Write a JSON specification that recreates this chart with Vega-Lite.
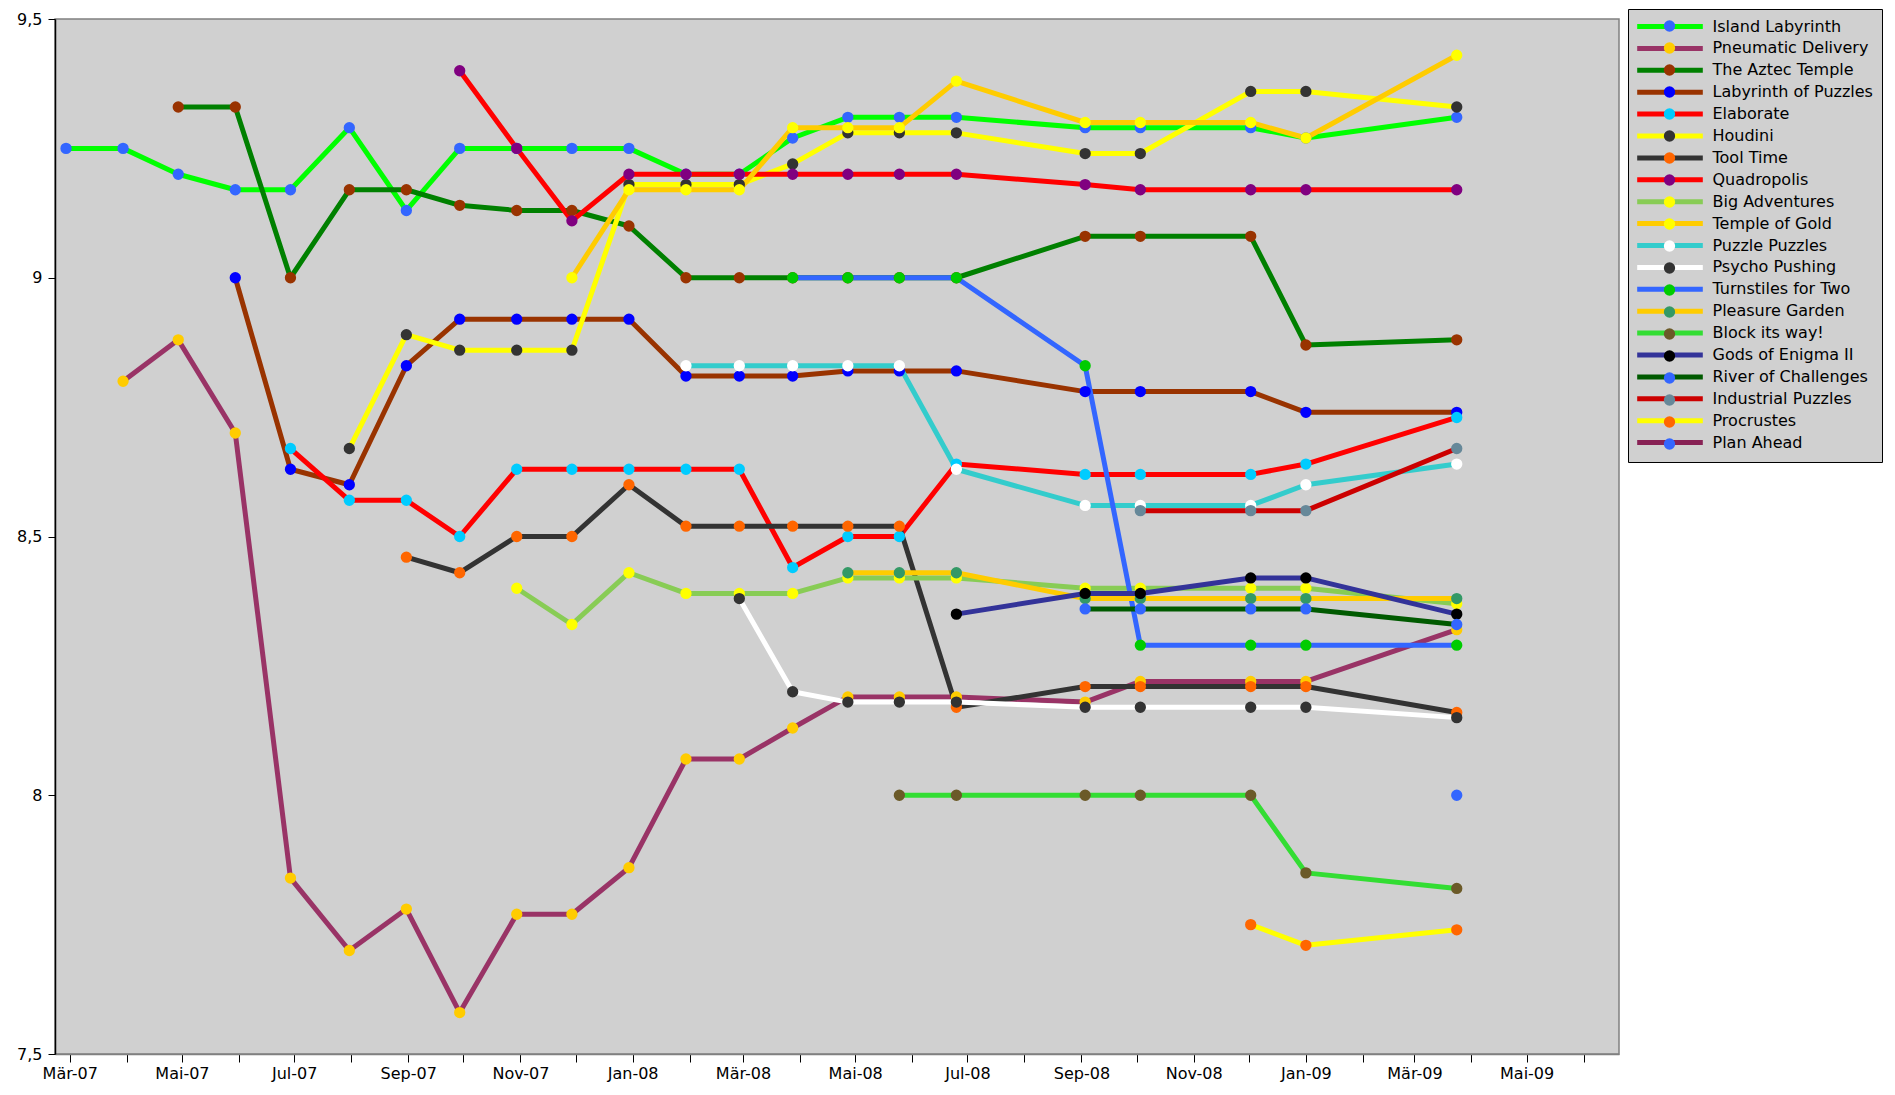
{
  "$schema": "https://vega.github.io/schema/vega-lite/v6.json",
  "width": 1564,
  "height": 1035,
  "autosize": {"type": "none"},
  "padding": {"left": 55, "top": 19, "right": 276, "bottom": 41},
  "background": "white",
  "config": {
    "view": {"fill": "#d0d0d0", "stroke": "#808080", "strokeWidth": 1.5},
    "font": "DejaVu Sans"
  },
  "datasets": {
    "ratings": [
      {"series":"Island Labyrinth","date":"2007-02-27","rating":9.25},
      {"series":"Island Labyrinth","date":"2007-03-30","rating":9.25},
      {"series":"Island Labyrinth","date":"2007-04-29","rating":9.20},
      {"series":"Island Labyrinth","date":"2007-05-30","rating":9.17},
      {"series":"Island Labyrinth","date":"2007-06-29","rating":9.17},
      {"series":"Island Labyrinth","date":"2007-07-31","rating":9.29},
      {"series":"Island Labyrinth","date":"2007-08-31","rating":9.13},
      {"series":"Island Labyrinth","date":"2007-09-29","rating":9.25},
      {"series":"Island Labyrinth","date":"2007-10-30","rating":9.25},
      {"series":"Island Labyrinth","date":"2007-11-29","rating":9.25},
      {"series":"Island Labyrinth","date":"2007-12-30","rating":9.25},
      {"series":"Island Labyrinth","date":"2008-01-30","rating":9.20},
      {"series":"Island Labyrinth","date":"2008-02-28","rating":9.20},
      {"series":"Island Labyrinth","date":"2008-03-28","rating":9.27},
      {"series":"Island Labyrinth","date":"2008-04-27","rating":9.31},
      {"series":"Island Labyrinth","date":"2008-05-25","rating":9.31},
      {"series":"Island Labyrinth","date":"2008-06-25","rating":9.31},
      {"series":"Island Labyrinth","date":"2008-09-03","rating":9.29},
      {"series":"Island Labyrinth","date":"2008-10-03","rating":9.29},
      {"series":"Island Labyrinth","date":"2008-12-02","rating":9.29},
      {"series":"Island Labyrinth","date":"2009-01-01","rating":9.27},
      {"series":"Island Labyrinth","date":"2009-03-24","rating":9.31},

      {"series":"Pneumatic Delivery","date":"2007-03-30","rating":8.80},
      {"series":"Pneumatic Delivery","date":"2007-04-29","rating":8.88},
      {"series":"Pneumatic Delivery","date":"2007-05-30","rating":8.70},
      {"series":"Pneumatic Delivery","date":"2007-06-29","rating":7.84},
      {"series":"Pneumatic Delivery","date":"2007-07-31","rating":7.70},
      {"series":"Pneumatic Delivery","date":"2007-08-31","rating":7.78},
      {"series":"Pneumatic Delivery","date":"2007-09-29","rating":7.58},
      {"series":"Pneumatic Delivery","date":"2007-10-30","rating":7.77},
      {"series":"Pneumatic Delivery","date":"2007-11-29","rating":7.77},
      {"series":"Pneumatic Delivery","date":"2007-12-30","rating":7.86},
      {"series":"Pneumatic Delivery","date":"2008-01-30","rating":8.07},
      {"series":"Pneumatic Delivery","date":"2008-02-28","rating":8.07},
      {"series":"Pneumatic Delivery","date":"2008-03-28","rating":8.13},
      {"series":"Pneumatic Delivery","date":"2008-04-27","rating":8.19},
      {"series":"Pneumatic Delivery","date":"2008-05-25","rating":8.19},
      {"series":"Pneumatic Delivery","date":"2008-06-25","rating":8.19},
      {"series":"Pneumatic Delivery","date":"2008-09-03","rating":8.18},
      {"series":"Pneumatic Delivery","date":"2008-10-03","rating":8.22},
      {"series":"Pneumatic Delivery","date":"2008-12-02","rating":8.22},
      {"series":"Pneumatic Delivery","date":"2009-01-01","rating":8.22},
      {"series":"Pneumatic Delivery","date":"2009-03-24","rating":8.32},

      {"series":"The Aztec Temple","date":"2007-04-29","rating":9.33},
      {"series":"The Aztec Temple","date":"2007-05-30","rating":9.33},
      {"series":"The Aztec Temple","date":"2007-06-29","rating":9.00},
      {"series":"The Aztec Temple","date":"2007-07-31","rating":9.17},
      {"series":"The Aztec Temple","date":"2007-08-31","rating":9.17},
      {"series":"The Aztec Temple","date":"2007-09-29","rating":9.14},
      {"series":"The Aztec Temple","date":"2007-10-30","rating":9.13},
      {"series":"The Aztec Temple","date":"2007-11-29","rating":9.13},
      {"series":"The Aztec Temple","date":"2007-12-30","rating":9.10},
      {"series":"The Aztec Temple","date":"2008-01-30","rating":9.00},
      {"series":"The Aztec Temple","date":"2008-02-28","rating":9.00},
      {"series":"The Aztec Temple","date":"2008-03-28","rating":9.00},
      {"series":"The Aztec Temple","date":"2008-04-27","rating":9.00},
      {"series":"The Aztec Temple","date":"2008-05-25","rating":9.00},
      {"series":"The Aztec Temple","date":"2008-06-25","rating":9.00},
      {"series":"The Aztec Temple","date":"2008-09-03","rating":9.08},
      {"series":"The Aztec Temple","date":"2008-10-03","rating":9.08},
      {"series":"The Aztec Temple","date":"2008-12-02","rating":9.08},
      {"series":"The Aztec Temple","date":"2009-01-01","rating":8.87},
      {"series":"The Aztec Temple","date":"2009-03-24","rating":8.88},

      {"series":"Labyrinth of Puzzles","date":"2007-05-30","rating":9.00},
      {"series":"Labyrinth of Puzzles","date":"2007-06-29","rating":8.63},
      {"series":"Labyrinth of Puzzles","date":"2007-07-31","rating":8.60},
      {"series":"Labyrinth of Puzzles","date":"2007-08-31","rating":8.83},
      {"series":"Labyrinth of Puzzles","date":"2007-09-29","rating":8.92},
      {"series":"Labyrinth of Puzzles","date":"2007-10-30","rating":8.92},
      {"series":"Labyrinth of Puzzles","date":"2007-11-29","rating":8.92},
      {"series":"Labyrinth of Puzzles","date":"2007-12-30","rating":8.92},
      {"series":"Labyrinth of Puzzles","date":"2008-01-30","rating":8.81},
      {"series":"Labyrinth of Puzzles","date":"2008-02-28","rating":8.81},
      {"series":"Labyrinth of Puzzles","date":"2008-03-28","rating":8.81},
      {"series":"Labyrinth of Puzzles","date":"2008-04-27","rating":8.82},
      {"series":"Labyrinth of Puzzles","date":"2008-05-25","rating":8.82},
      {"series":"Labyrinth of Puzzles","date":"2008-06-25","rating":8.82},
      {"series":"Labyrinth of Puzzles","date":"2008-09-03","rating":8.78},
      {"series":"Labyrinth of Puzzles","date":"2008-10-03","rating":8.78},
      {"series":"Labyrinth of Puzzles","date":"2008-12-02","rating":8.78},
      {"series":"Labyrinth of Puzzles","date":"2009-01-01","rating":8.74},
      {"series":"Labyrinth of Puzzles","date":"2009-03-24","rating":8.74},

      {"series":"Elaborate","date":"2007-06-29","rating":8.67},
      {"series":"Elaborate","date":"2007-07-31","rating":8.57},
      {"series":"Elaborate","date":"2007-08-31","rating":8.57},
      {"series":"Elaborate","date":"2007-09-29","rating":8.50},
      {"series":"Elaborate","date":"2007-10-30","rating":8.63},
      {"series":"Elaborate","date":"2007-11-29","rating":8.63},
      {"series":"Elaborate","date":"2007-12-30","rating":8.63},
      {"series":"Elaborate","date":"2008-01-30","rating":8.63},
      {"series":"Elaborate","date":"2008-02-28","rating":8.63},
      {"series":"Elaborate","date":"2008-03-28","rating":8.44},
      {"series":"Elaborate","date":"2008-04-27","rating":8.50},
      {"series":"Elaborate","date":"2008-05-25","rating":8.50},
      {"series":"Elaborate","date":"2008-06-25","rating":8.64},
      {"series":"Elaborate","date":"2008-09-03","rating":8.62},
      {"series":"Elaborate","date":"2008-10-03","rating":8.62},
      {"series":"Elaborate","date":"2008-12-02","rating":8.62},
      {"series":"Elaborate","date":"2009-01-01","rating":8.64},
      {"series":"Elaborate","date":"2009-03-24","rating":8.73},

      {"series":"Houdini","date":"2007-07-31","rating":8.67},
      {"series":"Houdini","date":"2007-08-31","rating":8.89},
      {"series":"Houdini","date":"2007-09-29","rating":8.86},
      {"series":"Houdini","date":"2007-10-30","rating":8.86},
      {"series":"Houdini","date":"2007-11-29","rating":8.86},
      {"series":"Houdini","date":"2007-12-30","rating":9.18},
      {"series":"Houdini","date":"2008-01-30","rating":9.18},
      {"series":"Houdini","date":"2008-02-28","rating":9.18},
      {"series":"Houdini","date":"2008-03-28","rating":9.22},
      {"series":"Houdini","date":"2008-04-27","rating":9.28},
      {"series":"Houdini","date":"2008-05-25","rating":9.28},
      {"series":"Houdini","date":"2008-06-25","rating":9.28},
      {"series":"Houdini","date":"2008-09-03","rating":9.24},
      {"series":"Houdini","date":"2008-10-03","rating":9.24},
      {"series":"Houdini","date":"2008-12-02","rating":9.36},
      {"series":"Houdini","date":"2009-01-01","rating":9.36},
      {"series":"Houdini","date":"2009-03-24","rating":9.33},

      {"series":"Tool Time","date":"2007-08-31","rating":8.46},
      {"series":"Tool Time","date":"2007-09-29","rating":8.43},
      {"series":"Tool Time","date":"2007-10-30","rating":8.50},
      {"series":"Tool Time","date":"2007-11-29","rating":8.50},
      {"series":"Tool Time","date":"2007-12-30","rating":8.60},
      {"series":"Tool Time","date":"2008-01-30","rating":8.52},
      {"series":"Tool Time","date":"2008-02-28","rating":8.52},
      {"series":"Tool Time","date":"2008-03-28","rating":8.52},
      {"series":"Tool Time","date":"2008-04-27","rating":8.52},
      {"series":"Tool Time","date":"2008-05-25","rating":8.52},
      {"series":"Tool Time","date":"2008-06-25","rating":8.17},
      {"series":"Tool Time","date":"2008-09-03","rating":8.21},
      {"series":"Tool Time","date":"2008-10-03","rating":8.21},
      {"series":"Tool Time","date":"2008-12-02","rating":8.21},
      {"series":"Tool Time","date":"2009-01-01","rating":8.21},
      {"series":"Tool Time","date":"2009-03-24","rating":8.16},

      {"series":"Quadropolis","date":"2007-09-29","rating":9.40},
      {"series":"Quadropolis","date":"2007-10-30","rating":9.25},
      {"series":"Quadropolis","date":"2007-11-29","rating":9.11},
      {"series":"Quadropolis","date":"2007-12-30","rating":9.20},
      {"series":"Quadropolis","date":"2008-01-30","rating":9.20},
      {"series":"Quadropolis","date":"2008-02-28","rating":9.20},
      {"series":"Quadropolis","date":"2008-03-28","rating":9.20},
      {"series":"Quadropolis","date":"2008-04-27","rating":9.20},
      {"series":"Quadropolis","date":"2008-05-25","rating":9.20},
      {"series":"Quadropolis","date":"2008-06-25","rating":9.20},
      {"series":"Quadropolis","date":"2008-09-03","rating":9.18},
      {"series":"Quadropolis","date":"2008-10-03","rating":9.17},
      {"series":"Quadropolis","date":"2008-12-02","rating":9.17},
      {"series":"Quadropolis","date":"2009-01-01","rating":9.17},
      {"series":"Quadropolis","date":"2009-03-24","rating":9.17},

      {"series":"Big Adventures","date":"2007-10-30","rating":8.40},
      {"series":"Big Adventures","date":"2007-11-29","rating":8.33},
      {"series":"Big Adventures","date":"2007-12-30","rating":8.43},
      {"series":"Big Adventures","date":"2008-01-30","rating":8.39},
      {"series":"Big Adventures","date":"2008-02-28","rating":8.39},
      {"series":"Big Adventures","date":"2008-03-28","rating":8.39},
      {"series":"Big Adventures","date":"2008-04-27","rating":8.42},
      {"series":"Big Adventures","date":"2008-05-25","rating":8.42},
      {"series":"Big Adventures","date":"2008-06-25","rating":8.42},
      {"series":"Big Adventures","date":"2008-09-03","rating":8.40},
      {"series":"Big Adventures","date":"2008-10-03","rating":8.40},
      {"series":"Big Adventures","date":"2008-12-02","rating":8.40},
      {"series":"Big Adventures","date":"2009-01-01","rating":8.40},
      {"series":"Big Adventures","date":"2009-03-24","rating":8.37},

      {"series":"Temple of Gold","date":"2007-11-29","rating":9.00},
      {"series":"Temple of Gold","date":"2007-12-30","rating":9.17},
      {"series":"Temple of Gold","date":"2008-01-30","rating":9.17},
      {"series":"Temple of Gold","date":"2008-02-28","rating":9.17},
      {"series":"Temple of Gold","date":"2008-03-28","rating":9.29},
      {"series":"Temple of Gold","date":"2008-04-27","rating":9.29},
      {"series":"Temple of Gold","date":"2008-05-25","rating":9.29},
      {"series":"Temple of Gold","date":"2008-06-25","rating":9.38},
      {"series":"Temple of Gold","date":"2008-09-03","rating":9.30},
      {"series":"Temple of Gold","date":"2008-10-03","rating":9.30},
      {"series":"Temple of Gold","date":"2008-12-02","rating":9.30},
      {"series":"Temple of Gold","date":"2009-01-01","rating":9.27},
      {"series":"Temple of Gold","date":"2009-03-24","rating":9.43},

      {"series":"Puzzle Puzzles","date":"2008-01-30","rating":8.83},
      {"series":"Puzzle Puzzles","date":"2008-02-28","rating":8.83},
      {"series":"Puzzle Puzzles","date":"2008-03-28","rating":8.83},
      {"series":"Puzzle Puzzles","date":"2008-04-27","rating":8.83},
      {"series":"Puzzle Puzzles","date":"2008-05-25","rating":8.83},
      {"series":"Puzzle Puzzles","date":"2008-06-25","rating":8.63},
      {"series":"Puzzle Puzzles","date":"2008-09-03","rating":8.56},
      {"series":"Puzzle Puzzles","date":"2008-10-03","rating":8.56},
      {"series":"Puzzle Puzzles","date":"2008-12-02","rating":8.56},
      {"series":"Puzzle Puzzles","date":"2009-01-01","rating":8.60},
      {"series":"Puzzle Puzzles","date":"2009-03-24","rating":8.64},

      {"series":"Psycho Pushing","date":"2008-02-28","rating":8.38},
      {"series":"Psycho Pushing","date":"2008-03-28","rating":8.20},
      {"series":"Psycho Pushing","date":"2008-04-27","rating":8.18},
      {"series":"Psycho Pushing","date":"2008-05-25","rating":8.18},
      {"series":"Psycho Pushing","date":"2008-06-25","rating":8.18},
      {"series":"Psycho Pushing","date":"2008-09-03","rating":8.17},
      {"series":"Psycho Pushing","date":"2008-10-03","rating":8.17},
      {"series":"Psycho Pushing","date":"2008-12-02","rating":8.17},
      {"series":"Psycho Pushing","date":"2009-01-01","rating":8.17},
      {"series":"Psycho Pushing","date":"2009-03-24","rating":8.15},

      {"series":"Turnstiles for Two","date":"2008-03-28","rating":9.00},
      {"series":"Turnstiles for Two","date":"2008-04-27","rating":9.00},
      {"series":"Turnstiles for Two","date":"2008-05-25","rating":9.00},
      {"series":"Turnstiles for Two","date":"2008-06-25","rating":9.00},
      {"series":"Turnstiles for Two","date":"2008-09-03","rating":8.83},
      {"series":"Turnstiles for Two","date":"2008-10-03","rating":8.29},
      {"series":"Turnstiles for Two","date":"2008-12-02","rating":8.29},
      {"series":"Turnstiles for Two","date":"2009-01-01","rating":8.29},
      {"series":"Turnstiles for Two","date":"2009-03-24","rating":8.29},

      {"series":"Pleasure Garden","date":"2008-04-27","rating":8.43},
      {"series":"Pleasure Garden","date":"2008-05-25","rating":8.43},
      {"series":"Pleasure Garden","date":"2008-06-25","rating":8.43},
      {"series":"Pleasure Garden","date":"2008-09-03","rating":8.38},
      {"series":"Pleasure Garden","date":"2008-10-03","rating":8.38},
      {"series":"Pleasure Garden","date":"2008-12-02","rating":8.38},
      {"series":"Pleasure Garden","date":"2009-01-01","rating":8.38},
      {"series":"Pleasure Garden","date":"2009-03-24","rating":8.38},

      {"series":"Block its way!","date":"2008-05-25","rating":8.00},
      {"series":"Block its way!","date":"2008-06-25","rating":8.00},
      {"series":"Block its way!","date":"2008-09-03","rating":8.00},
      {"series":"Block its way!","date":"2008-10-03","rating":8.00},
      {"series":"Block its way!","date":"2008-12-02","rating":8.00},
      {"series":"Block its way!","date":"2009-01-01","rating":7.85},
      {"series":"Block its way!","date":"2009-03-24","rating":7.82},

      {"series":"Gods of Enigma II","date":"2008-06-25","rating":8.35},
      {"series":"Gods of Enigma II","date":"2008-09-03","rating":8.39},
      {"series":"Gods of Enigma II","date":"2008-10-03","rating":8.39},
      {"series":"Gods of Enigma II","date":"2008-12-02","rating":8.42},
      {"series":"Gods of Enigma II","date":"2009-01-01","rating":8.42},
      {"series":"Gods of Enigma II","date":"2009-03-24","rating":8.35},

      {"series":"River of Challenges","date":"2008-09-03","rating":8.36},
      {"series":"River of Challenges","date":"2008-10-03","rating":8.36},
      {"series":"River of Challenges","date":"2008-12-02","rating":8.36},
      {"series":"River of Challenges","date":"2009-01-01","rating":8.36},
      {"series":"River of Challenges","date":"2009-03-24","rating":8.33},

      {"series":"Industrial Puzzles","date":"2008-10-03","rating":8.55},
      {"series":"Industrial Puzzles","date":"2008-12-02","rating":8.55},
      {"series":"Industrial Puzzles","date":"2009-01-01","rating":8.55},
      {"series":"Industrial Puzzles","date":"2009-03-24","rating":8.67},

      {"series":"Procrustes","date":"2008-12-02","rating":7.75},
      {"series":"Procrustes","date":"2009-01-01","rating":7.71},
      {"series":"Procrustes","date":"2009-03-24","rating":7.74},

      {"series":"Plan Ahead","date":"2009-03-24","rating":8.00}
    ]
  },
  "data": {"name": "ratings"},
  "encoding": {
    "x": {
      "field": "date",
      "type": "temporal",
      "scale": {
        "type": "utc",
        "domain": [
          {"year": 2007, "month": 2, "date": 21, "utc": true},
          {"year": 2009, "month": 6, "date": 20, "hours": 5, "utc": true}
        ]
      },
      "axis": {
        "title": null,
        "grid": false,
        "tickCount": {"interval": "month", "step": 1},
        "labelExpr": "utcmonth(datum.value) % 2 == 0 ? (['Jan','Feb','Mär','Apr','Mai','Jun','Jul','Aug','Sep','Okt','Nov','Dez'][utcmonth(datum.value)] + '-' + utcFormat(datum.value, '%y')) : ''",
        "labelOverlap": false,
        "labelFlush": false,
        "labelBound": false,
        "labelFont": "DejaVu Sans",
        "labelFontSize": 16,
        "labelColor": "black",
        "labelPadding": 3,
        "tickSize": 8,
        "tickColor": "black",
        "domainColor": "#808080",
        "domainWidth": 1.5
      }
    },
    "y": {
      "field": "rating",
      "type": "quantitative",
      "scale": {"domain": [7.5, 9.5], "nice": false, "zero": false},
      "axis": {
        "title": null,
        "grid": false,
        "values": [7.5, 8, 8.5, 9, 9.5],
        "labelExpr": "replace(toString(datum.value), '.', ',')",
        "labelFont": "DejaVu Sans",
        "labelFontSize": 16,
        "labelColor": "black",
        "labelPadding": 6,
        "tickSize": 7,
        "tickColor": "black",
        "domainColor": "black",
        "domainWidth": 1.5
      }
    }
  },
  "layer": [
    {
      "mark": {"type": "line", "strokeWidth": 5, "strokeCap": "round", "strokeJoin": "round"},
      "encoding": {
        "color": {
          "field": "series",
          "type": "nominal",
          "sort": ["Island Labyrinth","Pneumatic Delivery","The Aztec Temple","Labyrinth of Puzzles","Elaborate","Houdini","Tool Time","Quadropolis","Big Adventures","Temple of Gold","Puzzle Puzzles","Psycho Pushing","Turnstiles for Two","Pleasure Garden","Block its way!","Gods of Enigma II","River of Challenges","Industrial Puzzles","Procrustes","Plan Ahead"],
          "scale": {"range": ["#00ff00","#993366","#008000","#993300","#ff0000","#ffff00","#333333","#ff0000","#88cc55","#ffcc00","#33cccc","#ffffff","#3366ff","#ffcc00","#33dd33","#333399","#005a00","#cc0000","#ffff00","#882255"]},
          "legend": {
            "orient": "none",
            "legendX": 1573,
            "legendY": -10,
            "title": null,
            "padding": 9,
            "strokeColor": "black",
            "fillColor": "#d0d0d0",
            "symbolType": "M-5.8,0H5.8",
            "symbolSize": 128,
            "symbolStrokeWidth": 5,
            "symbolOffset": 24.5,
            "labelOffset": 34,
            "labelFont": "DejaVu Sans",
            "labelFontSize": 16,
            "labelColor": "black",
            "labelLimit": 400,
            "rowPadding": 0.9,
            "symbolLimit": 0
          }
        }
      }
    },
    {
      "mark": {"type": "point", "filled": true, "size": 128, "opacity": 1, "strokeWidth": 0},
      "encoding": {
        "fill": {
          "field": "series",
          "type": "nominal",
          "sort": ["Island Labyrinth","Pneumatic Delivery","The Aztec Temple","Labyrinth of Puzzles","Elaborate","Houdini","Tool Time","Quadropolis","Big Adventures","Temple of Gold","Puzzle Puzzles","Psycho Pushing","Turnstiles for Two","Pleasure Garden","Block its way!","Gods of Enigma II","River of Challenges","Industrial Puzzles","Procrustes","Plan Ahead"],
          "scale": {"range": ["#3366ff","#ffcc00","#993300","#0000ff","#00ccff","#333333","#ff6600","#800080","#ffff00","#ffff00","#ffffff","#333333","#00cc00","#339966","#6b5a28","#000000","#3366ff","#668899","#ff6600","#3366ff"]},
          "legend": {
            "orient": "none",
            "legendX": 1573,
            "legendY": -10,
            "title": null,
            "padding": 9,
            "symbolType": "circle",
            "symbolSize": 128,
            "symbolStrokeWidth": 0,
            "symbolOffset": 24.5,
            "labelOffset": 34,
            "labelFont": "DejaVu Sans",
            "labelFontSize": 16,
            "labelColor": "black",
            "labelOpacity": 0,
            "labelLimit": 400,
            "rowPadding": 6,
            "symbolLimit": 0
          }
        }
      }
    }
  ]
}
